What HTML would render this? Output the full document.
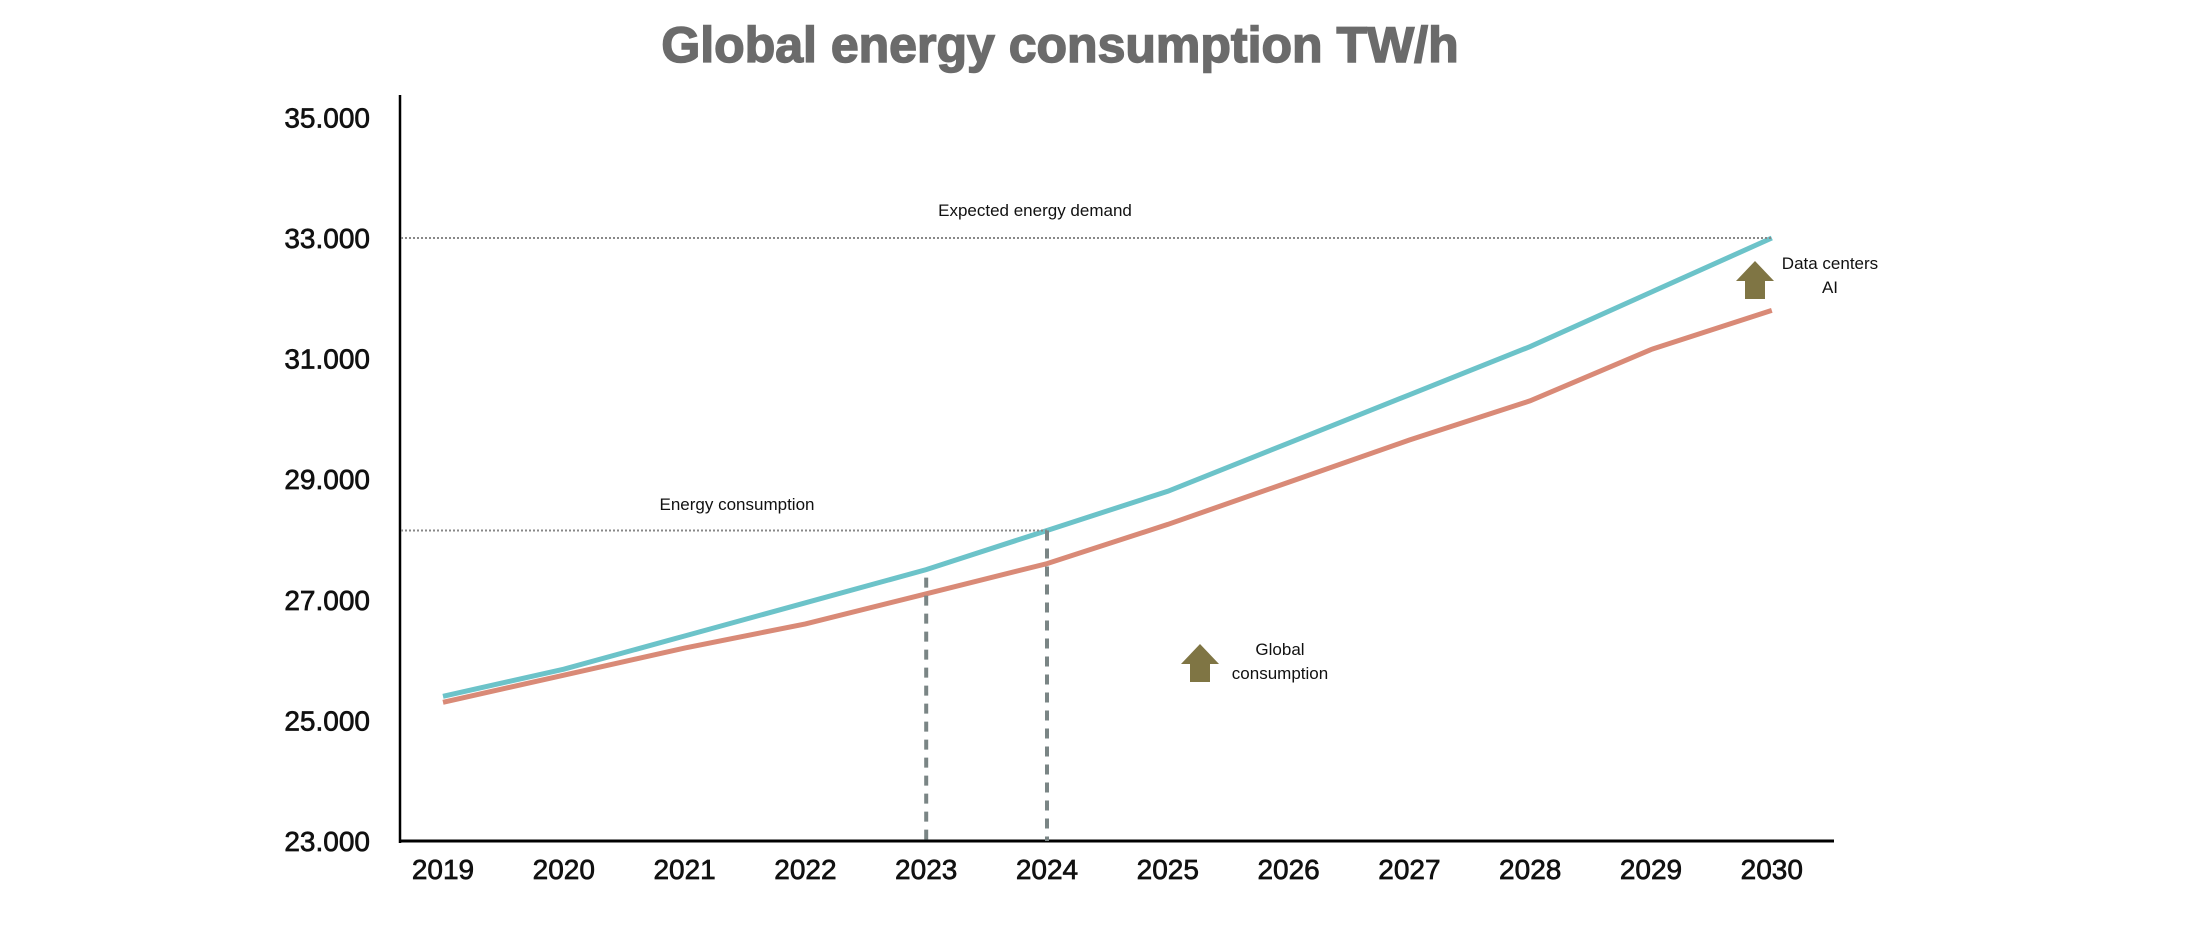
<!DOCTYPE html>
<html><head><meta charset="utf-8"><style>
body{margin:0;background:#fff;}
svg{display:block;font-family:"Liberation Sans",sans-serif;}
</style></head><body>
<svg id="chart" width="2186" height="934" viewBox="0 0 2186 934">
<text x="1060" y="62" text-anchor="middle" font-size="50" font-weight="bold" fill="#6b6b6b" stroke="#6b6b6b" stroke-width="1.5">Global energy consumption TW/h</text>
<g id="grid"></g><g id="axes"></g><g id="series"></g><g id="ann"></g>
</svg>
<script>
const years = [2019,2020,2021,2022,2023,2024,2025,2026,2027,2028,2029,2030];
const demandSeries = [25400,25850,26400,26950,27500,28150,28800,29600,30400,31200,32100,33000];
const consumptionSeries = [25300,25750,26200,26600,27100,27600,28250,28950,29650,30300,31150,31800];
const yTicks = [23000,25000,27000,29000,31000,33000,35000];
const yTickLabels = ["23.000","25.000","27.000","29.000","31.000","33.000","35.000"];
const expectedDemand = 33000;
const currentConsumption = 28150;

const NS="http://www.w3.org/2000/svg";
const X0=443, XSTEP=120.8, Y0=841, YMIN=23000, YPER=120.6/2000;
const xs=i=>X0+i*XSTEP;
const ys=v=>Y0-(v-YMIN)*YPER;
function mk(tag,attrs,parent,txt){const e=document.createElementNS(NS,tag);for(const k in attrs)e.setAttribute(k,attrs[k]);if(txt!==undefined)e.textContent=txt;parent.appendChild(e);return e;}
const axes=document.getElementById('axes'),series=document.getElementById('series'),ann=document.getElementById('ann');

let e=mk('line',{x1:400,y1:95,x2:400,y2:843,stroke:'#000','stroke-width':2.5},axes);


e=mk('line',{x1:399,y1:841,x2:1834,y2:841,stroke:'#000','stroke-width':3},axes);


yTicks.forEach((v,i)=>{
  const t=mk('text',{x:370,y:ys(v)+10,'text-anchor':'end','font-size':28,fill:'#111',stroke:'#111','stroke-width':0.7},axes,yTickLabels[i]);
  
  
});
years.forEach((y,i)=>{
  const t=mk('text',{x:xs(i),y:879,'text-anchor':'middle','font-size':28,fill:'#111',stroke:'#111','stroke-width':0.7},axes,String(y));
  
  
});
e=mk('line',{x1:401,y1:ys(expectedDemand),x2:xs(11),y2:ys(expectedDemand),stroke:'#888','stroke-width':2,'stroke-dasharray':'2 2'},ann);


e=mk('line',{x1:401,y1:ys(currentConsumption),x2:xs(5),y2:ys(currentConsumption),stroke:'#888','stroke-width':2,'stroke-dasharray':'2 2'},ann);


e=mk('line',{x1:xs(4),y1:ys(demandSeries[4])+8,x2:xs(4),y2:841,stroke:'#7a8585','stroke-width':4,'stroke-dasharray':'10 8'},ann);


e=mk('line',{x1:xs(5),y1:ys(currentConsumption),x2:xs(5),y2:841,stroke:'#7a8585','stroke-width':4,'stroke-dasharray':'10 8'},ann);


function path(arr){return arr.map((v,i)=>(i?'L':'M')+xs(i)+','+ys(v)).join(' ');}
e=mk('path',{d:path(consumptionSeries),fill:'none',stroke:'#d98a77','stroke-width':5},series);


e=mk('path',{d:path(demandSeries),fill:'none',stroke:'#6cc3c9','stroke-width':5},series);


e=mk('text',{x:1035,y:216,'text-anchor':'middle','font-size':17,fill:'#111'},ann,'Expected energy demand');


e=mk('text',{x:737,y:510,'text-anchor':'middle','font-size':17,fill:'#111'},ann,'Energy consumption');


function arrow(cx,top,name){
  const a=mk('path',{d:`M${cx},${top} L${cx+19},${top+20} L${cx+10},${top+20} L${cx+10},${top+38} L${cx-10},${top+38} L${cx-10},${top+20} L${cx-19},${top+20} Z`,fill:'#7f7544'},ann);
  
  
}
arrow(1200,644,'global-consumption-arrow');
arrow(1755,261,'data-centers-arrow');
e=mk('text',{x:1280,y:655,'text-anchor':'middle','font-size':17,fill:'#111'},ann,'Global');


e=mk('text',{x:1280,y:679,'text-anchor':'middle','font-size':17,fill:'#111'},ann,'consumption');


e=mk('text',{x:1830,y:269,'text-anchor':'middle','font-size':17,fill:'#111'},ann,'Data centers');


e=mk('text',{x:1830,y:293,'text-anchor':'middle','font-size':17,fill:'#111'},ann,'AI');


</script>
</body></html>
